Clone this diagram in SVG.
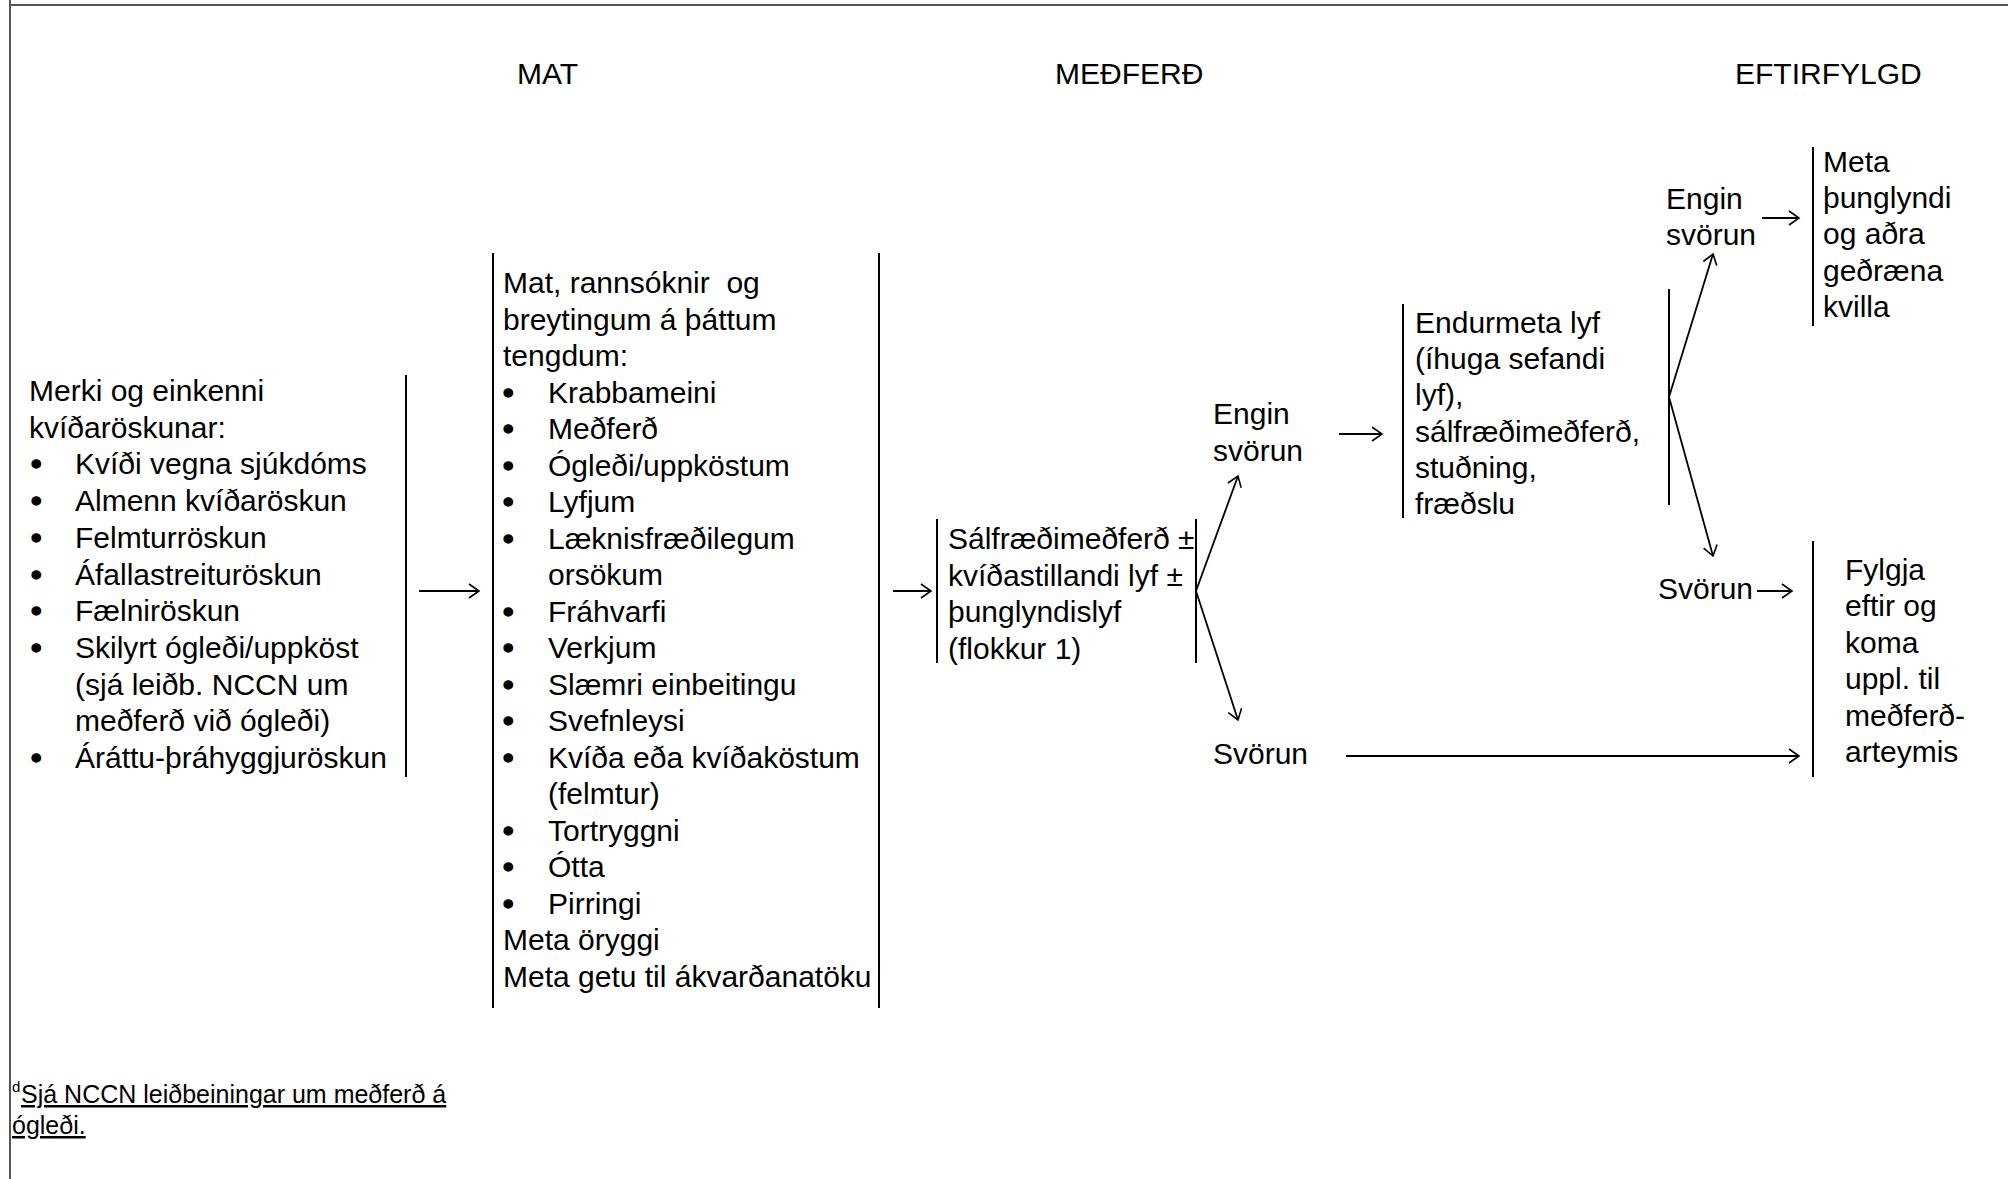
<svg xmlns="http://www.w3.org/2000/svg" width="2008" height="1179" viewBox="0 0 2008 1179">
<style>
text{font-family:"Liberation Sans",Arial,sans-serif;font-size:30px;fill:#000}
text.bu{stroke:#000;stroke-width:1.6}
.b{stroke:#000;stroke-width:2;fill:none}
.c{stroke:#000;stroke-width:1.8;fill:none}
.fr{stroke:#555;stroke-width:2;fill:none}
.fn{font-size:25px;text-decoration:underline}
.sup{font-size:15px}
</style>
<defs>
<marker id="ah" viewBox="-12 -9 14 18" markerWidth="14" markerHeight="18" refX="0" refY="0" markerUnits="userSpaceOnUse" orient="auto">
<path d="M-10,-7 L0,0 L-10,7" fill="none" stroke="#000" stroke-width="1.6"/>
</marker>
</defs>
<rect width="2008" height="1179" fill="#fff"/>
<g id="frame">
<line class="fr" x1="9" y1="5" x2="2008" y2="5"/>
<line class="fr" x1="10" y1="0" x2="10" y2="1179"/>
</g>
<g id="headers">
<text x="517" y="84">MAT</text>
<text x="1055" y="84">MEÐFERÐ</text>
<text x="1735" y="84">EFTIRFYLGD</text>
</g>
<g id="node-einkenni">
<line class="b" x1="406" y1="375" x2="406" y2="777"/>
<text x="29" y="401">Merki og einkenni</text>
<text x="29" y="437.7">kvíðaröskunar:</text>
<text class="bu" x="31" y="474.4">•</text><text x="75" y="474.4">Kvíði vegna sjúkdóms</text>
<text class="bu" x="31" y="511.1">•</text><text x="75" y="511.1">Almenn kvíðaröskun</text>
<text class="bu" x="31" y="547.8">•</text><text x="75" y="547.8">Felmturröskun</text>
<text class="bu" x="31" y="584.5">•</text><text x="75" y="584.5">Áfallastreituröskun</text>
<text class="bu" x="31" y="621.2">•</text><text x="75" y="621.2">Fælniröskun</text>
<text class="bu" x="31" y="657.9">•</text><text x="75" y="657.9">Skilyrt ógleði/uppköst</text>
<text x="75" y="694.6">(sjá leiðb. NCCN um</text>
<text x="75" y="731.3">meðferð við ógleði)</text>
<text class="bu" x="31" y="768">•</text><text x="75" y="768">Áráttu-þráhyggjuröskun</text>
</g>
<g id="node-mat">
<line class="b" x1="493" y1="253" x2="493" y2="1008"/>
<line class="b" x1="879" y1="253" x2="879" y2="1008"/>
<text x="503" y="293" xml:space="preserve">Mat, rannsóknir  og</text>
<text x="503" y="329.5">breytingum á þáttum</text>
<text x="503" y="366">tengdum:</text>
<text class="bu" x="503" y="402.5">•</text><text x="548" y="402.5">Krabbameini</text>
<text class="bu" x="503" y="439">•</text><text x="548" y="439">Meðferð</text>
<text class="bu" x="503" y="475.5">•</text><text x="548" y="475.5">Ógleði/uppköstum</text>
<text class="bu" x="503" y="512">•</text><text x="548" y="512">Lyfjum</text>
<text class="bu" x="503" y="548.5">•</text><text x="548" y="548.5">Læknisfræðilegum</text>
<text x="548" y="585">orsökum</text>
<text class="bu" x="503" y="621.5">•</text><text x="548" y="621.5">Fráhvarfi</text>
<text class="bu" x="503" y="658">•</text><text x="548" y="658">Verkjum</text>
<text class="bu" x="503" y="694.5">•</text><text x="548" y="694.5">Slæmri einbeitingu</text>
<text class="bu" x="503" y="731">•</text><text x="548" y="731">Svefnleysi</text>
<text class="bu" x="503" y="767.5">•</text><text x="548" y="767.5">Kvíða eða kvíðaköstum</text>
<text x="548" y="804">(felmtur)</text>
<text class="bu" x="503" y="840.5">•</text><text x="548" y="840.5">Tortryggni</text>
<text class="bu" x="503" y="877">•</text><text x="548" y="877">Ótta</text>
<text class="bu" x="503" y="913.5">•</text><text x="548" y="913.5">Pirringi</text>
<text x="503" y="950">Meta öryggi</text>
<text x="503" y="986.5">Meta getu til ákvarðanatöku</text>
</g>
<g id="node-medferd">
<line class="b" x1="937" y1="519" x2="937" y2="663"/>
<line class="b" x1="1196" y1="519" x2="1196" y2="663"/>
<text x="948" y="549">Sálfræðimeðferð ±</text>
<text x="948" y="585.5">kvíðastillandi lyf ±</text>
<text x="948" y="622">þunglyndislyf</text>
<text x="948" y="658.5">(flokkur 1)</text>
</g>
<g id="node-engin1">
<text x="1213" y="424">Engin</text>
<text x="1213" y="461">svörun</text>
</g>
<g id="node-svorun1">
<text x="1213" y="764">Svörun</text>
</g>
<g id="node-endurmeta">
<line class="b" x1="1403" y1="304" x2="1403" y2="518"/>
<line class="b" x1="1669" y1="289" x2="1669" y2="505"/>
<text x="1415" y="333">Endurmeta lyf</text>
<text x="1415" y="369.2">(íhuga sefandi</text>
<text x="1415" y="405.4">lyf),</text>
<text x="1415" y="441.6">sálfræðimeðferð,</text>
<text x="1415" y="477.8">stuðning,</text>
<text x="1415" y="514">fræðslu</text>
</g>
<g id="node-engin2">
<text x="1666" y="209">Engin</text>
<text x="1666" y="245">svörun</text>
</g>
<g id="node-svorun2">
<text x="1658" y="599">Svörun</text>
</g>
<g id="node-meta">
<line class="b" x1="1813" y1="147" x2="1813" y2="326"/>
<text x="1823" y="172">Meta</text>
<text x="1823" y="208.2">þunglyndi</text>
<text x="1823" y="244.4">og aðra</text>
<text x="1823" y="280.6">geðræna</text>
<text x="1823" y="316.8">kvilla</text>
</g>
<g id="node-fylgja">
<line class="b" x1="1813" y1="541" x2="1813" y2="777"/>
<text x="1845" y="580">Fylgja</text>
<text x="1845" y="616.4">eftir og</text>
<text x="1845" y="652.8">koma</text>
<text x="1845" y="689.2">uppl. til</text>
<text x="1845" y="725.6">meðferð-</text>
<text x="1845" y="762">arteymis</text>
</g>
<g id="connectors">
<line class="c" x1="419" y1="591" x2="479" y2="591" marker-end="url(#ah)"/>
<line class="c" x1="893" y1="591" x2="931" y2="591" marker-end="url(#ah)"/>
<line class="c" x1="1196" y1="591" x2="1238" y2="476" marker-end="url(#ah)"/>
<line class="c" x1="1196" y1="591" x2="1238" y2="720" marker-end="url(#ah)"/>
<line class="c" x1="1339" y1="434" x2="1382" y2="434" marker-end="url(#ah)"/>
<line class="c" x1="1669" y1="397" x2="1713" y2="254" marker-end="url(#ah)"/>
<line class="c" x1="1669" y1="397" x2="1713" y2="556" marker-end="url(#ah)"/>
<line class="c" x1="1762" y1="218" x2="1799" y2="218" marker-end="url(#ah)"/>
<line class="c" x1="1757" y1="591" x2="1792" y2="591" marker-end="url(#ah)"/>
<line class="c" x1="1346" y1="756" x2="1799" y2="756" marker-end="url(#ah)"/>
</g>
<g id="footnote">
<text class="sup" x="12" y="1092">d</text>
<text class="fn" x="21" y="1103">Sjá NCCN leiðbeiningar um meðferð á</text>
<text class="fn" x="12" y="1134">ógleði.</text>
</g>
</svg>
